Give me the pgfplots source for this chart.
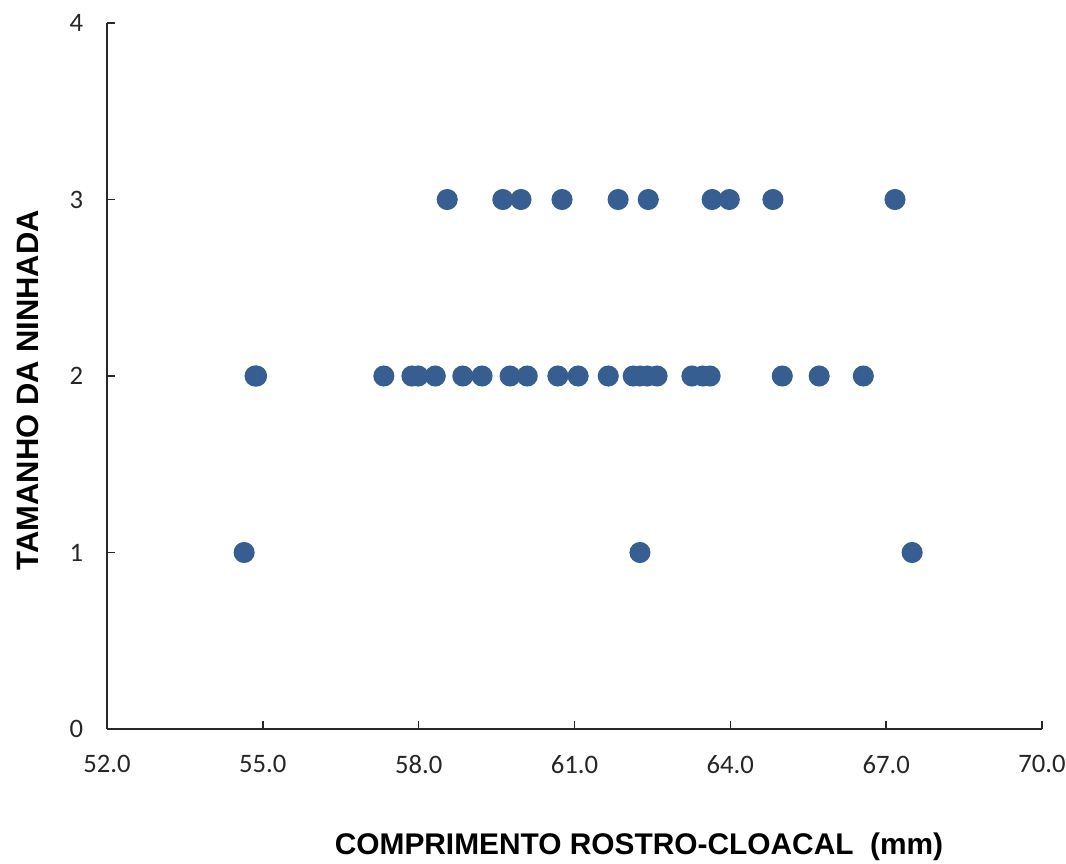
\documentclass[border=0pt]{standalone}
\usepackage{pgfplots}
\pgfplotsset{compat=1.18}
\usepackage{fontspec}
\setmainfont{Carlito}
\newfontfamily\labelfont{Liberation Sans}
\definecolor{dotblue}{RGB}{55,94,145}
\definecolor{axgray}{RGB}{40,40,40}
\begin{document}
\begin{tikzpicture}
\useasboundingbox (-40.125pt,-50.25pt) rectangle (359.625pt,273.375pt);
\begin{axis}[
  scale only axis,
  width=350.625pt, height=264.75pt,
  xmin=52, xmax=70, ymin=0, ymax=4,
  axis x line*=bottom, axis y line*=left,
  axis line style={axgray, line width=0.6pt},
  xtick={52,55,58,61,64,67,70},
  ytick={0,1,2,3,4},
  tick align=inside,
  major tick length=3pt,
  tick style={axgray, line width=0.6pt},
  xticklabel style={font=\fontsize{10}{12}\selectfont, text=black!85, yshift=-6.4pt},
  yticklabel style={font=\fontsize{10}{12}\selectfont, text=black!85, xshift=-5.4pt},
  /pgf/number format/assume math mode=true,
  x tick label style={/pgf/number format/.cd, fixed, fixed zerofill, precision=1},
  xlabel={COMPRIMENTO ROSTRO-CLOACAL\ \ (mm)},
  ylabel={TAMANHO DA NINHADA},
  xlabel style={font=\labelfont\bfseries\fontsize{11.2}{13}\selectfont, at={(axis description cs:0.569,-0.1671)}, anchor=center},
  ylabel style={font=\labelfont\bfseries\fontsize{11.6}{13}\selectfont, at={(axis description cs:-0.0845,0.48)}, anchor=center},
  clip=false,
]
\addplot[only marks, mark=*, mark size=3.75pt, mark options={fill=dotblue, draw=dotblue}] coordinates {
 (58.55,3) (59.62,3) (59.97,3) (60.76,3) (61.84,3) (62.42,3) (63.65,3) (63.98,3) (64.82,3) (67.17,3)
 (54.85,2) (54.88,2) (57.33,2) (57.87,2) (57.99,2) (58.32,2) (58.85,2) (59.22,2) (59.76,2) (60.09,2)
 (60.68,2) (61.07,2) (61.65,2) (62.13,2) (62.26,2) (62.40,2) (62.59,2) (63.26,2) (63.47,2) (63.61,2)
 (65.00,2) (65.71,2) (66.56,2)
 (54.64,1) (62.26,1) (67.50,1)
};
\end{axis}
\end{tikzpicture}
\end{document}
